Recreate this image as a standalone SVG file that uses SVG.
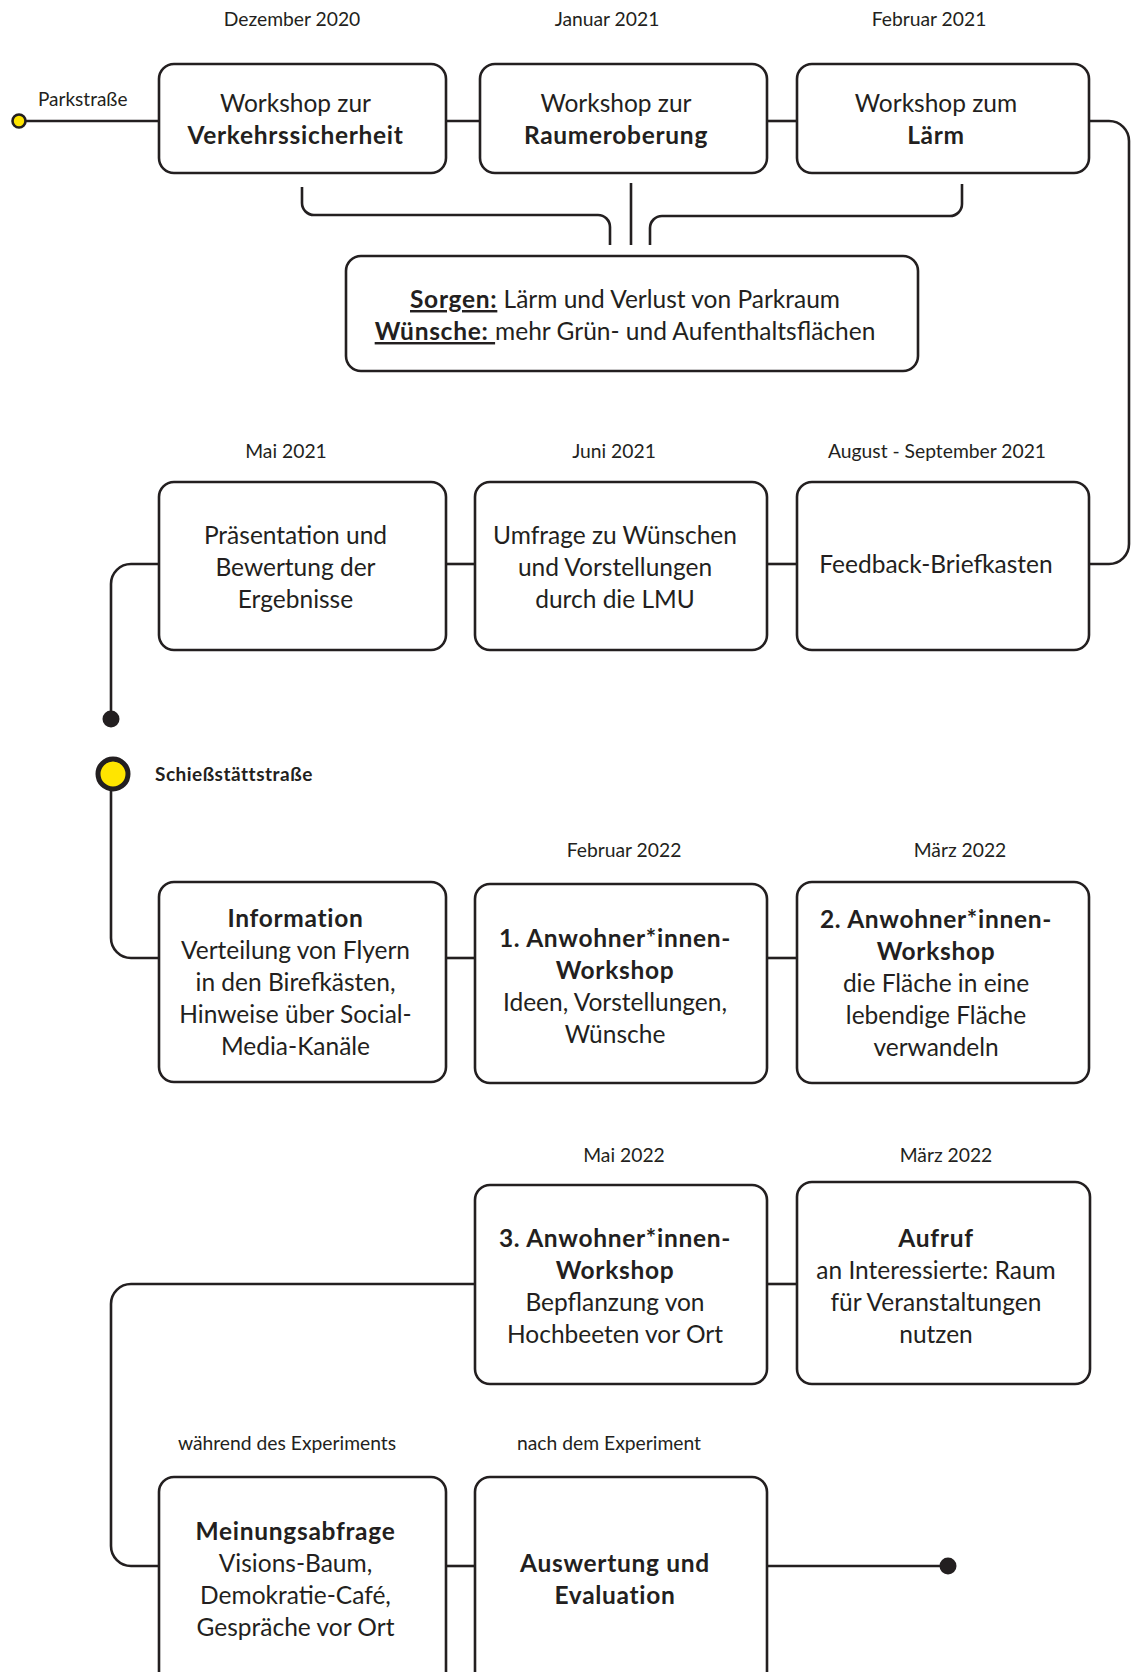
<svg xmlns="http://www.w3.org/2000/svg" width="1135" height="1672" viewBox="0 0 1135 1672">
  <style>
    .box { fill: #ffffff; stroke: #231f20; stroke-width: 2.6; }
    .wire { fill: none; stroke: #231f20; stroke-width: 2.6; }
    .dot { fill: #231f20; }
    .stop { fill: #ffe500; stroke: #231f20; }
    text { font-family: Lato, "Liberation Sans", sans-serif; fill: #231f20; }
    .t { font-size: 24.5px; text-anchor: middle; }
    .b { font-weight: 700; letter-spacing: 0.7px; }
    .date { font-size: 19.3px; text-anchor: middle; }
    .street { font-size: 19px; }
    .street.b { letter-spacing: 0.5px; }
    .ul { text-decoration: underline; }
  </style>
  <rect width="1135" height="1672" fill="#ffffff"/>

  <!-- connectors -->
  <g id="connectors">
    <!-- row 1 -->
    <line class="wire" x1="25" y1="121" x2="159" y2="121"/>
    <line class="wire" x1="446" y1="121" x2="480" y2="121"/>
    <line class="wire" x1="767" y1="121" x2="797" y2="121"/>
    <path class="wire" d="M1089,121 H1109 A20,20 0 0 1 1129,141 V544 A20,20 0 0 1 1109,564 H1089"/>
    <!-- outcomes bracket -->
    <path class="wire" d="M302,187 V203 A12,12 0 0 0 314,215 H598 A12,12 0 0 1 610,227 V245"/>
    <line class="wire" x1="631" y1="183" x2="631" y2="245"/>
    <path class="wire" d="M962,184 V204 A12,12 0 0 1 950,216 H662 A12,12 0 0 0 650,228 V245"/>
    <!-- row 2 -->
    <line class="wire" x1="767" y1="564" x2="797" y2="564"/>
    <line class="wire" x1="446" y1="564" x2="475" y2="564"/>
    <path class="wire" d="M159,564 H131 A20,20 0 0 0 111,584 V719"/>
    <circle class="dot" cx="111" cy="719" r="8.5"/>
    <!-- row 3 -->
    <path class="wire" d="M111,790 V938 A20,20 0 0 0 131,958 H159"/>
    <line class="wire" x1="446" y1="958" x2="475" y2="958"/>
    <line class="wire" x1="767" y1="958" x2="797" y2="958"/>
    <!-- row 4 / 5 -->
    <line class="wire" x1="767" y1="1284" x2="797" y2="1284"/>
    <path class="wire" d="M475,1284 H131 A20,20 0 0 0 111,1304 V1546 A20,20 0 0 0 131,1566 H159"/>
    <line class="wire" x1="446" y1="1566" x2="475" y2="1566"/>
    <line class="wire" x1="767" y1="1566" x2="948" y2="1566"/>
    <circle class="dot" cx="948" cy="1566" r="8.5"/>
  </g>

  <!-- street markers -->
  <g id="start-parkstrasse">
    <circle class="stop" cx="19" cy="121" r="6.5" stroke-width="2.6"/>
    <text class="street" x="38" y="106">Parkstraße</text>
  </g>
  <g id="start-schiessstaettstrasse">
    <circle class="stop" cx="113" cy="774" r="15" stroke-width="5"/>
    <text class="street b" x="155" y="781">Schießstättstraße</text>
  </g>

  <!-- dates -->
  <g id="dates">
    <text class="date" x="292" y="26">Dezember 2020</text>
    <text class="date" x="607" y="26">Januar 2021</text>
    <text class="date" x="929" y="26">Februar 2021</text>
    <text class="date" x="286" y="458">Mai 2021</text>
    <text class="date" x="614" y="458">Juni 2021</text>
    <text class="date" x="937" y="458">August - September 2021</text>
    <text class="date" x="624" y="857">Februar 2022</text>
    <text class="date" x="960" y="857">März 2022</text>
    <text class="date" x="624" y="1162">Mai 2022</text>
    <text class="date" x="946" y="1162">März 2022</text>
    <text class="date" x="287" y="1450">während des Experiments</text>
    <text class="date" x="609" y="1450">nach dem Experiment</text>
  </g>

  <!-- row 1 -->
  <g id="ws-verkehr">
    <rect class="box" x="159" y="64" width="287" height="109" rx="15"/>
    <text class="t" x="295.5" y="112">Workshop zur</text>
    <text class="t b" x="295.5" y="144">Verkehrssicherheit</text>
  </g>
  <g id="ws-raum">
    <rect class="box" x="480" y="64" width="287" height="109" rx="15"/>
    <text class="t" x="616" y="112">Workshop zur</text>
    <text class="t b" x="616" y="144">Raumeroberung</text>
  </g>
  <g id="ws-laerm">
    <rect class="box" x="797" y="64" width="292" height="109" rx="15"/>
    <text class="t" x="936" y="112">Workshop zum</text>
    <text class="t b" x="936" y="144">Lärm</text>
  </g>

  <!-- outcomes -->
  <g id="ergebnisse">
    <rect class="box" x="346" y="256" width="572" height="115" rx="15"/>
    <text class="t" x="625" y="308"><tspan class="b ul">Sorgen:</tspan> Lärm und Verlust von Parkraum</text>
    <text class="t" x="625" y="340"><tspan class="b ul">Wünsche: </tspan>mehr Grün- und Aufenthaltsflächen</text>
  </g>

  <!-- row 2 -->
  <g id="praesentation">
    <rect class="box" x="159" y="482" width="287" height="168" rx="15"/>
    <text class="t" x="295.5" y="544">Präsentation und</text>
    <text class="t" x="295.5" y="576">Bewertung der</text>
    <text class="t" x="295.5" y="608">Ergebnisse</text>
  </g>
  <g id="umfrage">
    <rect class="box" x="475" y="482" width="292" height="168" rx="15"/>
    <text class="t" x="615" y="544">Umfrage zu Wünschen</text>
    <text class="t" x="615" y="576">und Vorstellungen</text>
    <text class="t" x="615" y="608">durch die LMU</text>
  </g>
  <g id="briefkasten">
    <rect class="box" x="797" y="482" width="292" height="168" rx="15"/>
    <text class="t" x="936" y="573">Feedback-Briefkasten</text>
  </g>

  <!-- row 3 -->
  <g id="information">
    <rect class="box" x="159" y="882" width="287" height="200" rx="15"/>
    <text class="t b" x="295.5" y="927">Information</text>
    <text class="t" x="295.5" y="959">Verteilung von Flyern</text>
    <text class="t" x="295.5" y="991">in den Birefkästen,</text>
    <text class="t" x="295.5" y="1023">Hinweise über Social-</text>
    <text class="t" x="295.5" y="1055">Media-Kanäle</text>
  </g>
  <g id="workshop-1">
    <rect class="box" x="475" y="884" width="292" height="199" rx="15"/>
    <text class="t b" x="615" y="947">1. Anwohner*innen-</text>
    <text class="t b" x="615" y="979">Workshop</text>
    <text class="t" x="615" y="1011">Ideen, Vorstellungen,</text>
    <text class="t" x="615" y="1043">Wünsche</text>
  </g>
  <g id="workshop-2">
    <rect class="box" x="797" y="882" width="292" height="201" rx="15"/>
    <text class="t b" x="936" y="928">2. Anwohner*innen-</text>
    <text class="t b" x="936" y="960">Workshop</text>
    <text class="t" x="936" y="992">die Fläche in eine</text>
    <text class="t" x="936" y="1024">lebendige Fläche</text>
    <text class="t" x="936" y="1056">verwandeln</text>
  </g>

  <!-- row 4 -->
  <g id="workshop-3">
    <rect class="box" x="475" y="1185" width="292" height="199" rx="15"/>
    <text class="t b" x="615" y="1247">3. Anwohner*innen-</text>
    <text class="t b" x="615" y="1279">Workshop</text>
    <text class="t" x="615" y="1311">Bepflanzung von</text>
    <text class="t" x="615" y="1343">Hochbeeten vor Ort</text>
  </g>
  <g id="aufruf">
    <rect class="box" x="797" y="1182" width="293" height="202" rx="15"/>
    <text class="t b" x="936" y="1247">Aufruf</text>
    <text class="t" x="936" y="1279">an Interessierte: Raum</text>
    <text class="t" x="936" y="1311">für Veranstaltungen</text>
    <text class="t" x="936" y="1343">nutzen</text>
  </g>

  <!-- row 5 -->
  <g id="meinungsabfrage">
    <rect class="box" x="159" y="1477" width="287" height="215" rx="15"/>
    <text class="t b" x="295.5" y="1540">Meinungsabfrage</text>
    <text class="t" x="295.5" y="1572">Visions-Baum,</text>
    <text class="t" x="295.5" y="1604">Demokratie-Café,</text>
    <text class="t" x="295.5" y="1636">Gespräche vor Ort</text>
  </g>
  <g id="auswertung">
    <rect class="box" x="475" y="1477" width="292" height="215" rx="15"/>
    <text class="t b" x="615" y="1572">Auswertung und</text>
    <text class="t b" x="615" y="1604">Evaluation</text>
  </g>
</svg>
